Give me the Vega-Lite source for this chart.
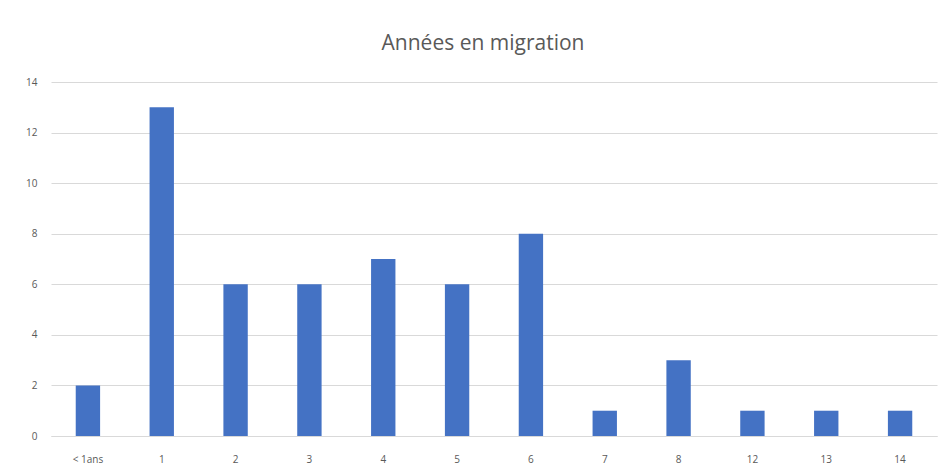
{
  "$schema": "https://vega.github.io/schema/vega-lite/v6.json",
  "autosize": "none",
  "width": 886,
  "height": 354,
  "padding": {"left": 51, "top": 82, "right": 9, "bottom": 37},
  "background": "#ffffff",
  "title": {
    "text": "Années en migration",
    "fontSize": 21,
    "fontWeight": "normal",
    "font": "Open Sans",
    "color": "#595959",
    "anchor": "middle",
    "dx": -11,
    "offset": 23
  },
  "data": {
    "values": [
      {"annees": "< 1ans", "count": 2},
      {"annees": "1", "count": 13},
      {"annees": "2", "count": 6},
      {"annees": "3", "count": 6},
      {"annees": "4", "count": 7},
      {"annees": "5", "count": 6},
      {"annees": "6", "count": 8},
      {"annees": "7", "count": 1},
      {"annees": "8", "count": 3},
      {"annees": "12", "count": 1},
      {"annees": "13", "count": 1},
      {"annees": "14", "count": 1}
    ]
  },
  "mark": {"type": "bar", "color": "#4472c4"},
  "encoding": {
    "x": {
      "field": "annees",
      "type": "nominal",
      "sort": null,
      "title": null,
      "scale": {"paddingInner": 0.67, "paddingOuter": 0.335},
      "axis": {
        "labelAngle": 0,
        "ticks": false,
        "domainColor": "#d9d9d9",
        "labelColor": "#595959",
        "labelFontSize": 10,
        "labelFont": "Open Sans",
        "labelPadding": 18
      }
    },
    "y": {
      "field": "count",
      "type": "quantitative",
      "title": null,
      "scale": {"domain": [0, 14]},
      "axis": {
        "values": [0, 2, 4, 6, 8, 10, 12, 14],
        "domain": false,
        "ticks": false,
        "gridColor": "#d9d9d9",
        "labelColor": "#595959",
        "labelFontSize": 10,
        "labelFont": "Open Sans",
        "labelPadding": 14
      }
    }
  },
  "config": {"view": {"stroke": null}}
}
